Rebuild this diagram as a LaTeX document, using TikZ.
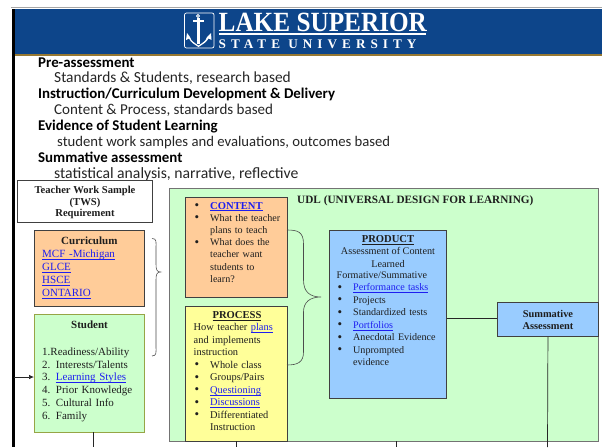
\documentclass[tikz,border=0pt]{standalone}
\usepackage{fontspec}
\usetikzlibrary{arrows.meta}
\setmainfont{Liberation Serif}
\newfontfamily\hand{Carlito}
\newfontfamily\spaced[LetterSpace=38]{Liberation Serif}
\definecolor{lssublue}{RGB}{13,69,138}
\definecolor{lssugold}{RGB}{150,120,50}
\definecolor{mint}{RGB}{204,255,204}
\definecolor{peach}{RGB}{255,204,153}
\definecolor{paleyellow}{RGB}{255,255,153}
\definecolor{skyb}{RGB}{153,204,255}
\definecolor{linkc}{RGB}{30,30,240}
\definecolor{inkc}{RGB}{30,30,30}
\definecolor{olivedge}{RGB}{150,165,70}
\newcommand{\lnk}[1]{\textcolor{linkc}{\underline{\smash{#1}}}}
\newcommand{\bu}{\makebox[16.5pt][l]{\hspace{1pt}\raisebox{-.3pt}{\fontsize{13}{12}\selectfont\textbullet}}}
\newcommand{\nb}{\hspace*{16.5pt}}
\tikzset{
  x=1pt,y=-1pt,
  boxtext/.style={font=\fontsize{10.6}{12.15}\selectfont,text=inkc,align=left,anchor=north west,inner sep=0pt},
  conn/.style={draw=black!85,line width=.7pt},
  headb/.style={font=\hand\bfseries\fontsize{14.9}{16}\selectfont,anchor=base west,inner sep=0pt,text=black},
  headt/.style={font=\hand\fontsize{#1}{16}\selectfont,anchor=base west,inner sep=0pt,text=black!85},
}
\begin{document}
\begin{tikzpicture}
\useasboundingbox (0,0) rectangle (602,447);
\fill[white] (0,0) rectangle (602,447);
% frame and header
\draw[black!35,line width=1pt] (11,7) -- (602,7);
\fill[lssublue] (12,9) rectangle (602,55);
\fill[lssugold] (12,54.2) rectangle (602,55.6);
\fill[black] (11.5,9) rectangle (14.5,447);
% logo
\draw[white,line width=.7pt,rounded corners=2pt] (184.5,13) rectangle (214,48);
\begin{scope}[white]
  \draw[line width=.9pt] (198,16) circle (1.6);
  \draw[line width=2.2pt] (193,21) -- (203.5,21);
  \draw[line width=2.4pt] (198.5,18) -- (198.5,44);
  \fill (187,33) -- (190,37) .. controls (191,41) and (194,42.5) .. (198.5,45.5) .. controls (203,42.5) and (206,41) .. (207,37) -- (211,33) -- (211.5,40) -- (208.5,38.5) .. controls (206,43) and (202,44.5) .. (198.5,47) .. controls (195,44.5) and (191,43) .. (189,38.5) -- (186,40) -- cycle;
\end{scope}
\node[inner sep=0pt,anchor=base west,text=white,xscale=.908,transform shape,font=\bfseries\fontsize{27.8}{29}\selectfont] (title) at (218.5,31) {LAKE SUPERIOR};
\fill[white] (218.5,33.2) rectangle (426,35);
\node[inner sep=0pt,anchor=base west,text=white,font=\spaced\bfseries\fontsize{13.2}{14}\selectfont] (sub) at (218.5,48) {STATE UNIVERSITY};
% heading text
\node[headb] (h1) at (38,67) {Pre-assessment};
\node[headt=15.4] (t1) at (54,82.5) {Standards \& Students, research based};
\node[headb] (h2) at (38,98.5) {Instruction/Curriculum Development \& Delivery};
\node[headt=15.05] (t2) at (54,114.5) {Content \& Process, standards based};
\node[headb] (h3) at (38,130.5) {Evidence of Student Learning};
\node[headt=14.7] (t3) at (57,146.5) {student work samples and evaluations, outcomes based};
\node[headb] (h4) at (38,162) {Summative assessment};
\node[headt=15.7] (t4) at (54,178) {statistical analysis, narrative, reflective};
% boxes
\draw[black!75,line width=.8pt,fill=white] (17.5,180) rectangle (152.5,222);
\node[boxtext,anchor=north,align=center,font=\bfseries\fontsize{10.6}{11.7}\selectfont] (tws) at (85,186) {Teacher Work Sample\\(TWS)\\Requirement};
\draw[black!75,line width=.9pt,fill=peach] (34.5,230.5) rectangle (144,306);
\node[boxtext,text width=100pt,font=\fontsize{11}{12.2}\selectfont] (curr) at (42,236.5) {\hspace*{19pt}\textbf{Curriculum}\\[.8pt]\lnk{MCF -Michigan}\\[.8pt]\lnk{GLCE}\\[.8pt]\lnk{HSCE}\\[.8pt]\lnk{ONTARIO}};
\draw[olivedge,line width=.8pt,fill=mint] (34.5,314.5) rectangle (144,432);
\node[boxtext,anchor=north,font=\bfseries\fontsize{11}{12}\selectfont] (stu) at (89.5,321) {Student};
\node[boxtext,text width=105pt,font=\fontsize{11}{12.8}\selectfont] (stul) at (42,347.5) {1.Readiness/Ability\\2. Interests/Talents\\3. \lnk{Learning Styles}\\4. Prior Knowledge\\5. Cultural Info\\6. Family};
\draw[black!55,line width=.9pt,fill=mint] (169,188) rectangle (598,441);
\node[boxtext,font=\bfseries\fontsize{11.25}{12}\selectfont] (udl) at (297,195) {UDL (UNIVERSAL DESIGN FOR LEARNING)};
\draw[black!75,line width=.9pt,fill=peach] (185.7,197) rectangle (287,297);
\node[boxtext,text width=98pt,font=\fontsize{10.1}{12.15}\selectfont] (cont) at (193.5,203.5) {\bu\lnk{\textbf{\fontsize{10.6}{12}\selectfont CONTENT}}\\\bu What the teacher\\\nb plans to teach\\\bu What does the\\\nb teacher want\\\nb students to\\\nb learn?};
\draw[black!75,line width=.9pt,fill=paleyellow] (185.7,306) rectangle (287,441);
\node[boxtext,anchor=north,font=\bfseries\fontsize{10.6}{12}\selectfont] (proc) at (237,311.5) {\underline{PROCESS}};
\node[boxtext,text width=98pt,font=\fontsize{10.4}{12.5}\selectfont] (procl) at (193.5,323.5) {How teacher \lnk{plans}\\and implements\\instruction\\\bu Whole class\\\bu Groups/Pairs\\\bu \lnk{Questioning}\\\bu \lnk{Discussions}\\\bu Differentiated\\\nb Instruction};
\draw[black!75,line width=.9pt,fill=skyb] (329,230.5) rectangle (446.7,398.5);
\node[boxtext,anchor=north,align=center,font=\fontsize{10.2}{12.15}\selectfont] (prod) at (388,235.5) {\textbf{\underline{\fontsize{10.6}{12}\selectfont PRODUCT}}\\Assessment of Content\\Learned};
\node[boxtext,text width=110pt,font=\fontsize{10.1}{12.5}\selectfont] (prodl) at (336.5,271.5) {Formative/Summative\\\bu \lnk{Performance tasks}\\\bu Projects\\\bu Standardized tests\\\bu \lnk{Portfolios}\\\bu Anecdotal Evidence\\\bu Unprompted\\\nb evidence};
\node[draw=black!75,line width=.9pt,fill=skyb,anchor=north west,inner sep=0pt,minimum width=101pt,minimum height=34pt,align=center,font=\bfseries\fontsize{10.4}{12}\selectfont,text=inkc] (summ) at (497,302) {Summative\\Assessment};
% connectors
\coordinate (prodE) at (446.7,318);
\coordinate (summB) at (547.5,447);
\draw[conn] (prodE) -- (summ.west |- prodE);
\draw[conn] (summ.south) -- (summB);
\coordinate (stuB) at (93.5,432); \coordinate (stuEnd) at (93.5,447);
\draw[conn] (stuB) -- (stuEnd);
\coordinate (procB) at (236.5,441); \coordinate (procEnd) at (236.5,447);
\draw[conn] (procB) -- (procEnd);
\coordinate (udlB) at (396,441); \coordinate (udlEnd) at (396,447);
\draw[conn] (udlB) -- (udlEnd);
\coordinate (arrS) at (14,377); \coordinate (arrE) at (34,377);
\draw[conn,-{Latex[length=5pt,width=4.5pt]}] (arrS) -- (arrE);
% braces
\draw[black!70,line width=.6pt] (152,238.5) .. controls (157,238.5) and (156,242) .. (156,248) -- (156,264) .. controls (156,270) and (157,272) .. (160.5,272) .. controls (157,272) and (156,274) .. (156,280) -- (156,346) .. controls (156,352) and (157,356) .. (152,356);
\draw[black!70,line width=.6pt] (287,230) .. controls (298,230) and (303.5,232) .. (303.5,244) -- (303.5,280) .. controls (303.5,292) and (310,297) .. (321,297) .. controls (310,297) and (303.5,302) .. (303.5,312) -- (303.5,352) .. controls (303.5,362) and (298,365) .. (287,365);
\end{tikzpicture}
\end{document}
